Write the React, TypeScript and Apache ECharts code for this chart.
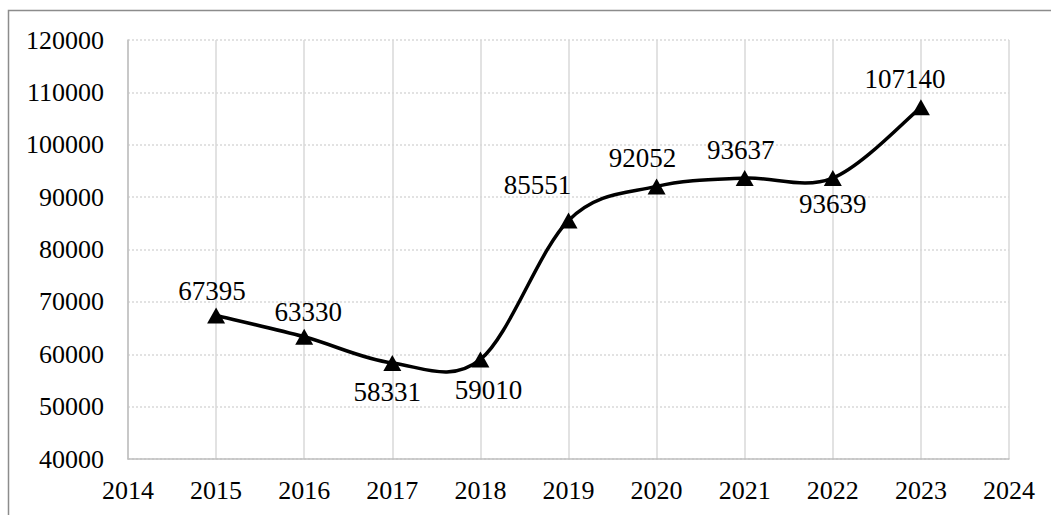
import React, { useEffect, useRef } from "react";
import * as echarts from "echarts";

const years = [2015, 2016, 2017, 2018, 2019, 2020, 2021, 2022, 2023];
const values = [67395, 63330, 58331, 59010, 85551, 92052, 93637, 93639, 107140];
// label placement per point: [dx, dy] relative to the marker
const labelOffsets: [number, number][] = [
  [-4, -25],
  [4, -25],
  [-5, 29],
  [8, 31],
  [-31, -35],
  [-14, -28],
  [-4, -28],
  [0, 26],
  [-16, -28],
];

const FONT = "Liberation Serif";

export default function App() {
  const ref = useRef<HTMLDivElement>(null);

  useEffect(() => {
    if (!ref.current) return;
    const chart = echarts.init(ref.current, undefined, { renderer: "svg" });

    const points = years.map((y, i) => [y, values[i]]);
    const n = points.length;

    // Catmull-Rom style smoothing: each segment is a cubic bezier whose
    // control points follow the neighbouring points (in pixel space).
    const renderSegment = (params: any, api: any) => {
      const i = params.dataIndex;
      if (i >= n - 1) return { type: "group", children: [] };
      const at = (k: number) => {
        const j = Math.max(0, Math.min(n - 1, k));
        return api.coord(points[j]);
      };
      const p0 = at(i - 1);
      const p1 = at(i);
      const p2 = at(i + 1);
      const p3 = at(i + 2);
      return {
        type: "bezierCurve",
        shape: {
          x1: p1[0],
          y1: p1[1],
          cpx1: p1[0] + (p2[0] - p0[0]) / 6,
          cpy1: p1[1] + (p2[1] - p0[1]) / 6,
          cpx2: p2[0] - (p3[0] - p1[0]) / 6,
          cpy2: p2[1] - (p3[1] - p1[1]) / 6,
          x2: p2[0],
          y2: p2[1],
        },
        style: { stroke: "#000", lineWidth: 3.5, fill: "none", lineCap: "round" },
      };
    };

    const scatterData = points.map((p, i) => ({
      value: p,
      label: {
        show: true,
        position: "inside",
        offset: labelOffsets[i],
        formatter: String(values[i]),
        fontFamily: FONT,
        fontSize: 27,
        color: "#000",
        opacity: 1,
      },
    }));

    chart.setOption({
      animation: false,
      backgroundColor: "#fff",
      graphic: [
        {
          type: "rect",
          shape: { x: 8.5, y: 10.5, width: 1200, height: 700 },
          style: { fill: "none", stroke: "#8c8c8c", lineWidth: 1.5 },
          silent: true,
          z: -1,
        },
      ],
      grid: { left: 128, top: 40, right: 42, bottom: 56, containLabel: false },
      xAxis: {
        type: "value",
        min: 2014,
        max: 2024,
        interval: 1,
        axisLine: { show: true, lineStyle: { color: "#bfbfbf", width: 1.5 } },
        axisTick: { show: false },
        axisLabel: {
          formatter: (v: number) => String(v),
          fontFamily: FONT,
          fontSize: 26,
          color: "#000",
          margin: 18,
        },
        splitLine: { show: true, lineStyle: { color: "#d9d9d9", width: 1.5, type: "solid" } },
      },
      yAxis: {
        type: "value",
        min: 40000,
        max: 120000,
        interval: 10000,
        axisLine: { show: true, lineStyle: { color: "#bfbfbf", width: 1.5 } },
        axisTick: { show: false },
        axisLabel: {
          formatter: (v: number) => String(v),
          fontFamily: FONT,
          fontSize: 26,
          color: "#000",
          margin: 24,
        },
        splitLine: { show: true, lineStyle: { color: "#d9d9d9", width: 1.5, type: [2, 2] } },
      },
      series: [
        {
          type: "custom",
          data: points,
          encode: { x: 0, y: 1 },
          renderItem: renderSegment,
          silent: true,
          z: 4,
        },
        {
          type: "scatter",
          data: scatterData,
          symbol: "triangle",
          symbolSize: [18, 16],
          itemStyle: { color: "#000", opacity: 1 },
          z: 5,
        },
      ],
    });

    return () => chart.dispose();
  }, []);

  return (
    <div
      ref={ref}
      style={{ position: "absolute", left: 0, top: 0, width: 1051, height: 515 }}
    />
  );
}
